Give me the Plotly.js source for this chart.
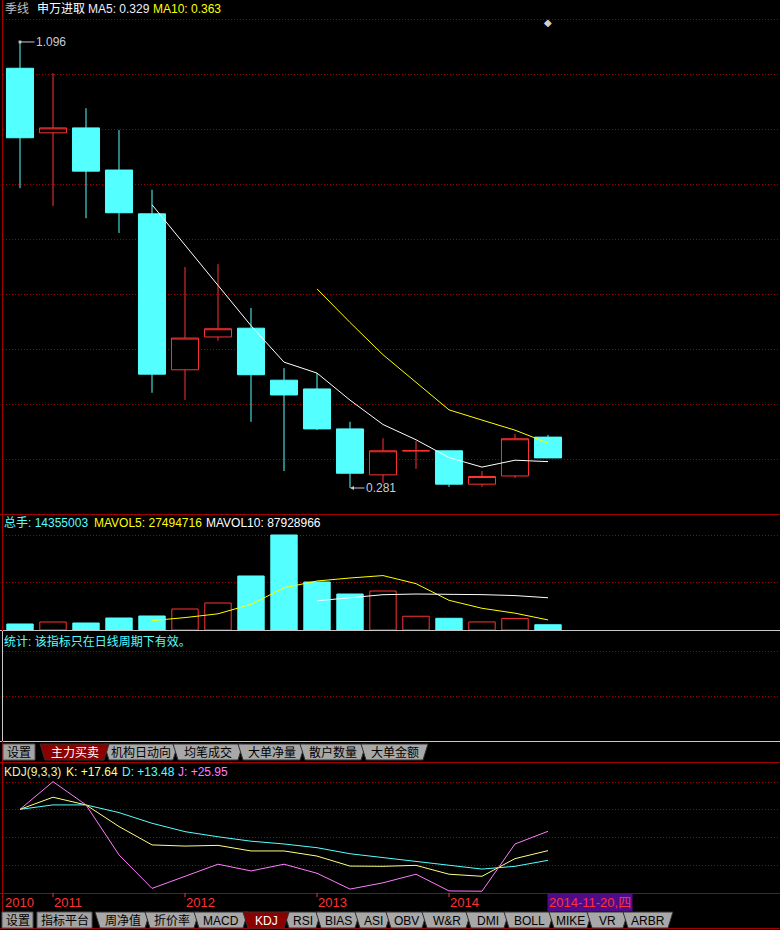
<!DOCTYPE html>
<html>
<head>
<meta charset="utf-8">
<script src="https://cdn.plot.ly/plotly-3.0.1.min.js"></script>
<style>
  html, body { margin: 0; padding: 0; background: #000; }
  #chart { width: 780px; height: 930px; }
</style>
</head>
<body>
<div id="chart"></div>
<script>
// Quarterly bars of 申万进取, 2010Q4 .. 2014Q4
const quarters = ['2010Q4','2011Q1','2011Q2','2011Q3','2011Q4','2012Q1','2012Q2','2012Q3','2012Q4',
                  '2013Q1','2013Q2','2013Q3','2013Q4','2014Q1','2014Q2','2014Q3','2014Q4'];
const openPx  = [1.048, 0.930, 0.939, 0.862, 0.782, 0.497, 0.557, 0.573, 0.478, 0.462, 0.389, 0.305, 0.349, 0.349, 0.288, 0.303, 0.374];
const highPx  = [1.096, 1.039, 0.975, 0.935, 0.826, 0.685, 0.690, 0.610, 0.500, 0.491, 0.402, 0.372, 0.367, 0.349, 0.312, 0.380, 0.378];
const lowPx   = [0.829, 0.796, 0.774, 0.747, 0.455, 0.442, 0.550, 0.402, 0.312, 0.387, 0.281, 0.290, 0.316, 0.283, 0.283, 0.299, 0.336];
const closePx = [0.921, 0.939, 0.860, 0.784, 0.489, 0.555, 0.572, 0.488, 0.451, 0.389, 0.308, 0.349, 0.349, 0.288, 0.302, 0.371, 0.336];
const volume  = [16400000, 21800000, 19100000, 32700000, 38200000, 57300000, 73600000, 147300000, 259100000,
                 130900000, 98200000, 106316080, 37500000, 32000000, 22000000, 31618577, 14355003];
// KDJ(9,3,3)
const kLine = [35.4, 40.6, 37.3, 28.0, 20.1, 19.6, 19.9, 17.5, 17.5, 15.3, 11.0, 10.9, 11.3, 7.5, 6.6, 14.2, 17.64];
const dLine = [35.4, 37.3, 37.3, 34.0, 29.4, 25.8, 23.6, 21.7, 20.5, 18.9, 16.3, 14.6, 12.9, 11.2, 9.7, 10.9, 13.48];
const jLine = [35.4, 47.3, 37.3, 15.8, 1.4, 6.6, 11.8, 8.9, 11.8, 7.9, 1.1, 3.8, 7.5, 0.3, 0.2, 20.5, 25.95];
const yearLabels = ['2010', '2011', '2012', '2013', '2014'];
const yearStart  = ['2010Q4', '2011Q1', '2012Q1', '2013Q1', '2014Q1'];
const periodName = '季线';
const stockName = '申万进取';
const cursorDate = '2014-11-20,四';
const upperTabs = ['主力买卖', '机构日动向', '均笔成交', '大单净量', '散户数量', '大单金额'];
const lowerTabs = ['周净值', '折价率', 'MACD', 'KDJ', 'RSI', 'BIAS', 'ASI', 'OBV', 'W&R', 'DMI', 'BOLL', 'MIKE', 'VR', 'ARBR'];

// ---- palette ----
const CYAN = '#54ffff', RED = '#ff3232', YEL = '#ffff00', WHITE = '#ffffff';
const GRID = '#a00000', FRAME = '#a00000', PANEL = '#c8c8c8';
const FONT = "'Liberation Sans', Arial, 'Noto Sans CJK SC', sans-serif";

const W = 780, H = 930;
const px = x => x / W;
const py = y => 1 - y / H;

const movingAvg = (arr, n) => arr.map((_, i) =>
  i < n - 1 ? null : arr.slice(i - n + 1, i + 1).reduce((a, b) => a + b, 0) / n);

const ma5 = movingAvg(closePx, 5), ma10 = movingAvg(closePx, 10);
const mavol5 = movingAvg(volume, 5), mavol10 = movingAvg(volume, 10);
const last = quarters.length - 1;
const rising = closePx.map((c, i) => c >= openPx[i]);

const traces = [
  {
    type: 'candlestick', x: quarters, open: openPx, high: highPx, low: lowPx, close: closePx,
    xaxis: 'x', yaxis: 'y', whiskerwidth: 0,
    increasing: { line: { color: RED, width: 1 }, fillcolor: '#000000' },
    decreasing: { line: { color: CYAN, width: 1 }, fillcolor: CYAN },
    hoverinfo: 'skip'
  },
  { type: 'scatter', mode: 'lines', x: quarters, y: ma5, yaxis: 'y', line: { color: WHITE, width: 1 } },
  { type: 'scatter', mode: 'lines', x: quarters, y: ma10, yaxis: 'y', line: { color: YEL, width: 1 } },
  {
    type: 'bar', x: quarters, y: volume, yaxis: 'y2', width: 0.8,
    marker: { color: rising.map(r => r ? '#000000' : CYAN),
              line: { color: rising.map(r => r ? RED : CYAN), width: 1 } }
  },
  { type: 'scatter', mode: 'lines', x: quarters, y: mavol5, yaxis: 'y2', line: { color: YEL, width: 1 } },
  { type: 'scatter', mode: 'lines', x: quarters, y: mavol10, yaxis: 'y2', line: { color: WHITE, width: 1 } },
  { type: 'scatter', mode: 'lines', x: quarters, y: dLine, yaxis: 'y3', line: { color: CYAN, width: 1 } },
  { type: 'scatter', mode: 'lines', x: quarters, y: kLine, yaxis: 'y3', line: { color: '#ffff80', width: 1 } },
  { type: 'scatter', mode: 'lines', x: quarters, y: jLine, yaxis: 'y3', line: { color: '#ff7cff', width: 1 } }
];

const shapes = [];
const annotations = [];

function hline(y, color, dash, x0) {
  shapes.push({ type: 'line', xref: 'paper', yref: 'paper', x0: px(x0 == null ? 3 : x0), x1: 1,
    y0: py(y + 0.5), y1: py(y + 0.5), line: { color: color, width: 1, dash: dash || 'solid' }, layer: 'below' });
}
function label(x, y, text, color, size, anchor) {
  annotations.push({ xref: 'paper', yref: 'paper', x: px(x), y: py(y), text: text, showarrow: false,
    xanchor: anchor || 'left', yanchor: 'middle', font: { family: FONT, size: size || 12, color: color } });
}

// dotted grid of each panel
[19, 74, 129, 184, 239, 294, 349, 404, 459].forEach(y => hline(y, GRID, '1px,2px'));
[535, 582].forEach(y => hline(y, GRID, '1px,2px'));
[651, 696].forEach(y => hline(y, GRID, '1px,2px'));
[782, 809, 837, 865].forEach(y => hline(y, GRID, '1px,2px'));

// panel frames
hline(514, FRAME, 'solid', 0);
hline(630, PANEL, 'solid', 0);
hline(741, PANEL, 'solid', 0);
hline(762, FRAME, 'solid', 0);
hline(893, FRAME, 'solid', 0);
hline(928, FRAME, 'solid', 0);
shapes.push({ type: 'line', xref: 'paper', yref: 'paper', x0: px(2.5), x1: px(2.5), y0: py(0), y1: py(928),
  line: { color: FRAME, width: 1 } });
shapes.push({ type: 'line', xref: 'paper', yref: 'paper', x0: px(2.5), x1: px(2.5), y0: py(631), y1: py(741),
  line: { color: PANEL, width: 1 } });

// year ticks on the date strip
yearStart.slice(1).forEach(q => shapes.push({ type: 'line', xref: 'x', yref: 'paper', x0: q, x1: q,
  y0: py(893), y1: py(897), line: { color: RED, width: 1 } }));
yearLabels.forEach((t, i) => annotations.push({ xref: 'x', yref: 'paper', x: yearStart[i], y: py(902),
  text: t, showarrow: false, xanchor: 'left', yanchor: 'middle', xshift: i === 0 ? -17 : -1,
  font: { family: FONT, size: 13, color: RED } }));
annotations.push({ xref: 'x', yref: 'paper', x: quarters[last], y: py(902.5), text: cursorDate,
  showarrow: false, xanchor: 'left', yanchor: 'middle', xshift: -1, bgcolor: '#4e0c8a', borderpad: 1,
  font: { family: FONT, size: 13, color: RED } });

// headers
label(3, 9, periodName, '#c0c0c0');
label(35, 9, stockName, WHITE);
label(86, 9, 'MA5: ' + ma5[last].toFixed(3), '#eeeeff');
label(151, 9, 'MA10: ' + ma10[last].toFixed(3), YEL);

label(2, 523, '总手: ' + volume[last], CYAN);
label(92, 523, 'MAVOL5: ' + Math.round(mavol5[last]), YEL);
label(204, 523, 'MAVOL10: ' + Math.round(mavol10[last]), WHITE);

label(2, 641, '统计: 该指标只在日线周期下有效。', CYAN);

const sgn = v => (v >= 0 ? '+' : '') + v.toFixed(2);
label(2, 772, 'KDJ(9,3,3)', '#f0f0b0');
label(64, 772, 'K: ' + sgn(kLine[last]), '#ffff80');
label(120, 772, 'D: ' + sgn(dLine[last]), CYAN);
label(176, 772, 'J: ' + sgn(jLine[last]), '#ff7cff');

// extremes of the price range
const hiIdx = highPx.indexOf(Math.max(...highPx));
const loIdx = lowPx.indexOf(Math.min(...lowPx));
annotations.push({ xref: 'x', yref: 'y', x: quarters[hiIdx], y: highPx[hiIdx], text: highPx[hiIdx].toFixed(3),
  showarrow: true, ax: 31, ay: 0, arrowhead: 7, arrowsize: 0.7, arrowwidth: 1, arrowcolor: '#c8c8c8',
  standoff: 0, font: { family: FONT, size: 12, color: '#c4ccdc' } });
annotations.push({ xref: 'x', yref: 'y', x: quarters[loIdx], y: lowPx[loIdx], text: lowPx[loIdx].toFixed(3),
  showarrow: true, ax: 31, ay: 0, arrowhead: 2, arrowsize: 0.8, arrowwidth: 1, arrowcolor: '#c8c8c8',
  standoff: 0, font: { family: FONT, size: 12, color: '#c4ccdc' } });

// cursor marker above the latest bar
annotations.push({ xref: 'x', yref: 'paper', x: quarters[last], y: py(22.5), text: '◆', showarrow: false,
  xanchor: 'center', yanchor: 'middle', font: { family: 'DejaVu Sans', size: 10, color: '#d0d0d0' } });

// tab strips
function button(x0, x1, y0, y1, text) {
  shapes.push({ type: 'rect', xref: 'paper', yref: 'paper', x0: px(x0), x1: px(x1), y0: py(y1), y1: py(y0),
    fillcolor: '#a4a4a4', line: { color: '#505050', width: 1 } });
  label((x0 + x1) / 2, (y0 + y1) / 2 + 0.5, text, '#000000', 12, 'center');
}
function tabRow(names, edges, activeName, y0, y1) {
  const s = 5;
  const draw = (i) => {
    const a = edges[i], b = edges[i + 1] + s, on = names[i] === activeName;
    shapes.push({ type: 'path', xref: 'paper', yref: 'paper',
      path: `M${px(a)},${py(y0)} L${px(b)},${py(y0)} L${px(b - s)},${py(y1)} L${px(a + s)},${py(y1)} Z`,
      fillcolor: on ? '#8c0000' : '#a8a8a8', line: { color: '#303030', width: 1 } });
    label((a + b) / 2, (y0 + y1) / 2 + 0.5, names[i], on ? '#ffffff' : '#000000', 12, 'center');
  };
  names.forEach((n, i) => { if (n !== activeName) draw(i); });
  names.forEach((n, i) => { if (n === activeName) draw(i); });
}
button(3, 35, 744, 760, '设置');
tabRow(upperTabs, [40, 104, 173, 238, 300, 361, 423], '主力买卖', 744, 760);
button(2, 33, 912, 928, '设置');
button(37, 92, 912, 928, '指标平台');
tabRow(lowerTabs, [95, 145, 194, 243, 284, 316, 355, 386, 422, 466, 504, 549, 587, 623, 668], 'KDJ', 912, 928);

const hideAxis = { showgrid: false, zeroline: false, showticklabels: false, showline: false, ticks: '', fixedrange: true };

const layout = {
  width: W, height: H,
  margin: { l: 0, r: 0, t: 0, b: 0, pad: 0 },
  paper_bgcolor: '#000000', plot_bgcolor: 'rgba(0,0,0,0)',
  showlegend: false, boxgap: 0.18, boxgroupgap: 0, bargap: 0,
  xaxis: Object.assign({ type: 'category', range: [-20 / 33, 760 / 33], anchor: 'y3',
    rangeslider: { visible: false } }, hideAxis),
  yaxis: Object.assign({ domain: [py(514), py(15)], range: [0.2335, 1.1453], anchor: 'x' }, hideAxis),
  yaxis2: Object.assign({ domain: [py(630), py(530)], range: [0, 272.7e6], anchor: 'x' }, hideAxis),
  yaxis3: Object.assign({ domain: [py(893), py(762)], range: [-0.58, 55.75], anchor: 'x' }, hideAxis),
  shapes: shapes,
  annotations: annotations,
  font: { family: FONT, size: 12, color: '#ffffff' }
};

Plotly.newPlot('chart', traces, layout, { staticPlot: true, displayModeBar: false });
</script>
</body>
</html>
